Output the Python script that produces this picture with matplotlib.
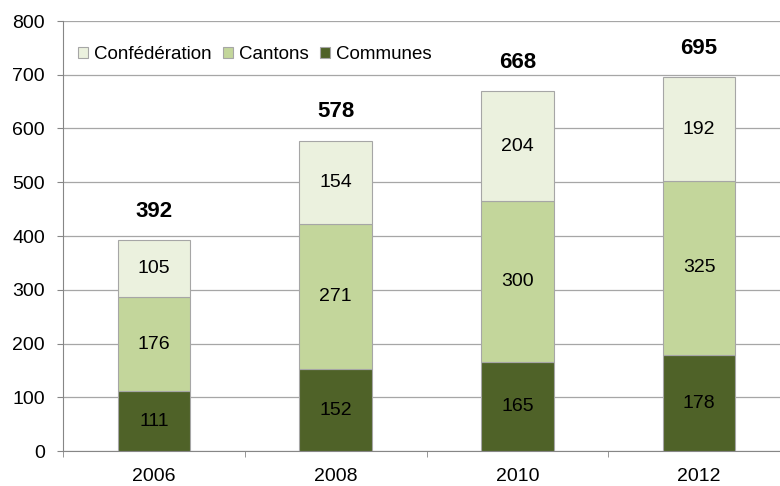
import matplotlib.pyplot as plt
import numpy as np

years = ["2006", "2008", "2010", "2012"]
communes = [111, 152, 165, 178]
cantons = [176, 271, 300, 325]
confederation = [105, 154, 204, 192]
totals = [392, 578, 668, 695]

plt.rcParams["font.family"] = ["Liberation Sans", "DejaVu Sans"]

fig = plt.figure(figsize=(7.8, 4.86), dpi=100)
ax = fig.add_axes([63 / 780, 35 / 486, 727 / 780, 430 / 486])

x = np.arange(len(years))
width = 0.4
edge = "#a6a6a6"
series = [
    ("Communes", communes, "#4f6228"),
    ("Cantons", cantons, "#c3d69b"),
    ("Confédération", confederation, "#ebf1de"),
]

bottom = np.zeros(len(years))
handles = {}
for name, values, color in series:
    bars = ax.bar(x, values, width, bottom=bottom, color=color, edgecolor=edge,
                  linewidth=0.8, label=name, zorder=3)
    handles[name] = bars
    for xi, b, v in zip(x, bottom, values):
        ax.text(xi, b + v / 2, str(v), ha="center", va="center", fontsize=14, zorder=4)
    bottom += np.array(values)

# Totals above each stack
for xi, total in zip(x, totals):
    ax.annotate(str(total), (xi, total), xytext=(0, 21), textcoords="offset points",
                ha="center", va="center", fontsize=16, fontweight="bold")

# Axes
ax.set_xlim(-0.5, len(years) - 0.5)
ax.set_ylim(0, 800)
ax.set_yticks(range(0, 801, 100))
ax.set_xticks(x)
ax.set_xticklabels(years)
ax.set_xticks(np.arange(-0.5, len(years), 1), minor=True)
ax.tick_params(axis="x", which="major", length=0, labelsize=14, pad=12)
ax.tick_params(axis="x", which="minor", length=4, color="#868686", direction="out")
ax.tick_params(axis="y", length=4, color="#868686", labelsize=14, pad=9)
ax.grid(axis="y", color="#a6a6a6", linewidth=0.9, zorder=0)
ax.set_axisbelow(True)
for side in ["top", "right"]:
    ax.spines[side].set_visible(False)
ax.spines["left"].set_color("#868686")
ax.spines["bottom"].set_color("#868686")

ax.legend(
    [handles["Confédération"], handles["Cantons"], handles["Communes"]],
    ["Confédération", "Cantons", "Communes"],
    loc="upper left", bbox_to_anchor=(0.0, 0.977), ncol=3, frameon=False,
    fontsize=13.5, handlelength=0.55, handleheight=0.55, handletextpad=0.3,
    columnspacing=0.6, borderaxespad=0.4,
)

fig.savefig("out.png", dpi=100)
